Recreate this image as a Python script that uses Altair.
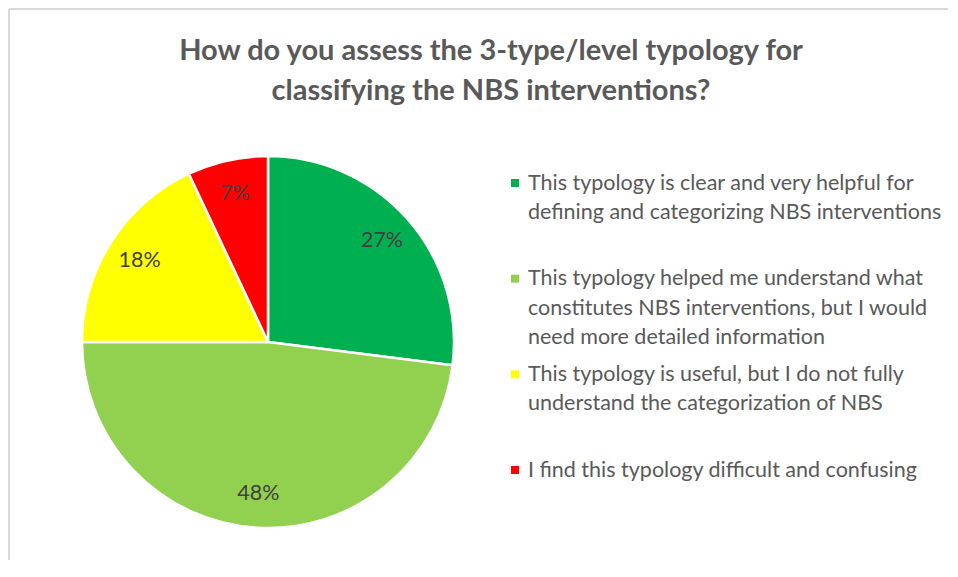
import altair as alt
import pandas as pd

# ---- data ----
categories = [
    "This typology is clear and very helpful for defining and categorizing NBS interventions",
    "This typology helped me understand what constitutes NBS interventions, but I would need more detailed information",
    "This typology is useful, but I do not fully understand the categorization of NBS",
    "I find this typology difficult and confusing",
]
values = [27, 48, 18, 7]
colors = ["#00B050", "#92D050", "#FFFF00", "#FF0000"]
legend_lines = [
    ["This typology is clear and very helpful for", "defining and categorizing NBS interventions"],
    ["This typology helped me understand what", "constitutes NBS interventions, but I would", "need more detailed information"],
    ["This typology is useful, but I do not fully", "understand the categorization of NBS"],
    ["I find this typology difficult and confusing"],
]
title_lines = [
    "How do you assess the 3-type/level typology for",
    "classifying the NBS interventions?",
]

pie_df = pd.DataFrame({"category": categories, "value": values, "order": list(range(len(values)))})
pie_df["label"] = pie_df["value"].astype(str) + "%"

leg_df = pd.DataFrame({
    "category": categories,
    "text": ["\n".join(lines) for lines in legend_lines],
})

frame_df = pd.DataFrame({"k": [0]})

W, H = 940, 552
CX, CY, R = 260, 334, 186
FONT = "Lato"
GREY = "#595959"
FS = 21.5

color_scale = alt.Scale(domain=categories, range=colors)

base = alt.Chart(pie_df).encode(
    theta=alt.Theta("value:Q", stack=True),
    order=alt.Order("order:Q"),
    x=alt.value(CX),
    y=alt.value(CY),
)
arcs = base.mark_arc(radius=R, stroke="white", strokeWidth=2.5).encode(
    color=alt.Color("category:N", scale=color_scale, legend=None)
)
labels = base.mark_text(radius=152, fontSize=FS, font=FONT, color="#404040").encode(
    text="label:N"
)

ypos = alt.Y(
    "category:N",
    sort=categories,
    scale=alt.Scale(type="point", domain=categories, range=[175, 462], padding=0),
    axis=None,
)

leg_text = alt.Chart(leg_df).mark_text(
    align="left", baseline="top", dy=-10.5, font=FONT, fontSize=FS, color=GREY,
    lineBreak="\n", lineHeight=29.5,
).encode(x=alt.value(520), y=ypos, text="text:N")

leg_sq = alt.Chart(leg_df).mark_point(
    shape="square", filled=True, size=64, opacity=1
).encode(
    x=alt.value(507), y=ypos,
    color=alt.Color("category:N", scale=color_scale, legend=None),
)

top_rule = alt.Chart(frame_df).mark_rule(color="#D9D9D9", strokeWidth=2).encode(
    x=alt.value(1), x2=alt.value(W), y=alt.value(1)
)
left_rule = alt.Chart(frame_df).mark_rule(color="#D9D9D9", strokeWidth=2).encode(
    x=alt.value(1), y=alt.value(1), y2=alt.value(H)
)

chart = alt.layer(top_rule, left_rule, arcs, labels, leg_sq, leg_text).properties(
    width=W,
    height=H,
    padding={"left": 0, "top": 0, "right": 0, "bottom": 0},
    background="white",
    title=alt.TitleParams(
        text=title_lines, font=FONT, fontSize=29, fontWeight="bold", color=GREY,
        anchor="middle", frame="group", dx=13, offset=-98, lineHeight=40,
    ),
).configure_view(stroke=None)

chart.save("out.html", embed_options={"renderer": "svg", "actions": False})
